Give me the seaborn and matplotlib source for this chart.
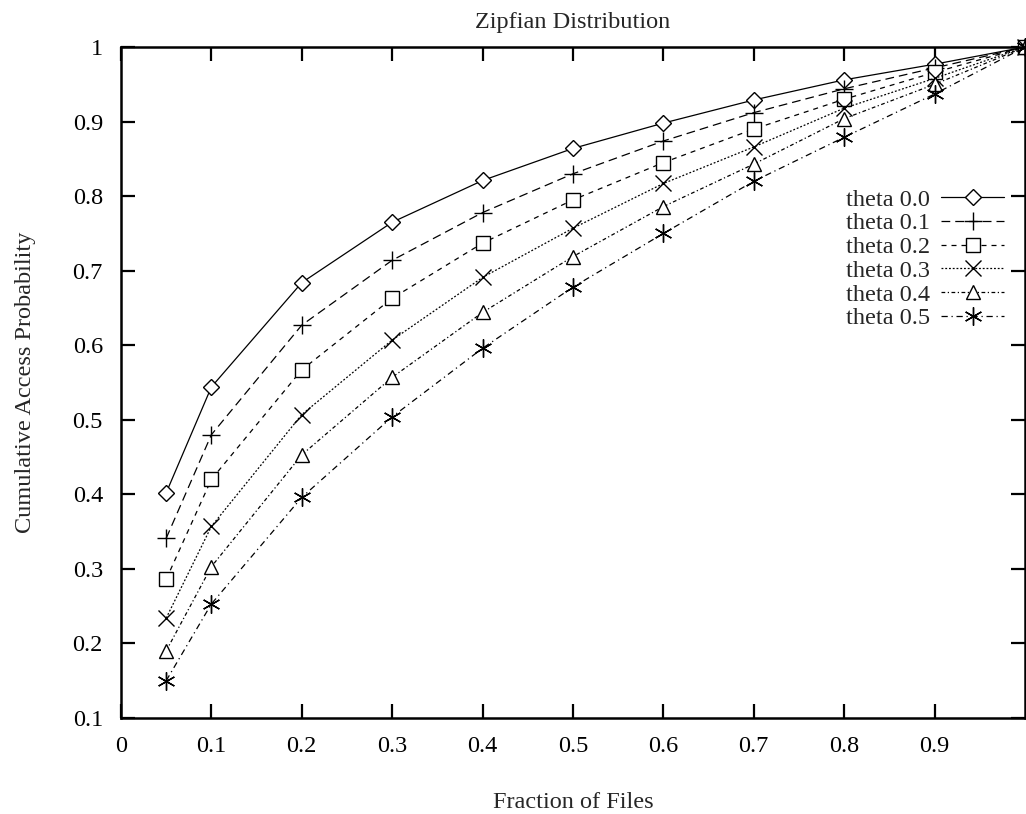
import matplotlib
matplotlib.use("Agg")
import matplotlib.pyplot as plt
import seaborn as sns
import pandas as pd

# ---- data ----
fractions = [0.05, 0.1, 0.2, 0.3, 0.4, 0.5, 0.6, 0.7, 0.8, 0.9, 1.0]
theta_labels = ["theta 0.0", "theta 0.1", "theta 0.2", "theta 0.3", "theta 0.4", "theta 0.5"]
theta0 = [0.402, 0.544, 0.684, 0.765, 0.821, 0.864, 0.898, 0.929, 0.956, 0.977, 1.0]
theta1 = [0.341, 0.480, 0.627, 0.714, 0.778, 0.830, 0.874, 0.912, 0.944, 0.972, 1.0]
theta2 = [0.286, 0.420, 0.567, 0.663, 0.737, 0.795, 0.845, 0.890, 0.930, 0.966, 1.0]
theta3 = [0.234, 0.357, 0.507, 0.607, 0.691, 0.757, 0.817, 0.866, 0.918, 0.958, 1.0]
theta4 = [0.190, 0.303, 0.453, 0.557, 0.644, 0.719, 0.786, 0.843, 0.904, 0.950, 1.0]
theta5 = [0.150, 0.253, 0.396, 0.504, 0.596, 0.678, 0.750, 0.820, 0.879, 0.937, 1.0]
series = [theta0, theta1, theta2, theta3, theta4, theta5]

x_ticks = [0, 0.1, 0.2, 0.3, 0.4, 0.5, 0.6, 0.7, 0.8, 0.9]
x_tick_labels = ["0", "0.1", "0.2", "0.3", "0.4", "0.5", "0.6", "0.7", "0.8", "0.9"]
y_ticks = [0.1, 0.2, 0.3, 0.4, 0.5, 0.6, 0.7, 0.8, 0.9, 1.0]
y_tick_labels = ["0.1", "0.2", "0.3", "0.4", "0.5", "0.6", "0.7", "0.8", "0.9", "1"]

# ---- style ----
sns.set_style("ticks")
plt.rcParams["font.family"] = ["Liberation Serif", "DejaVu Serif"]
FS = 17.5

styles = [
    dict(linestyle="-", marker="D", markersize=8, mfc="white"),
    dict(linestyle=(0, (7, 4)), marker="+", markersize=13, mfc="none"),
    dict(linestyle=(0, (4, 4)), marker="s", markersize=9.5, mfc="white"),
    dict(linestyle=(0, (1.5, 1.5)), marker="x", markersize=11, mfc="none"),
    dict(linestyle=(0, (3, 2, 1, 2)), marker="^", markersize=9.5, mfc="white"),
    dict(linestyle=(0, (5, 3, 1, 3)), marker=(6, 2, 0), markersize=13, mfc="none"),
]

fig = plt.figure(figsize=(10.26, 8.14), dpi=100)
ax = fig.add_axes([0.1179, 0.1179, 0.8811, 0.8243])

for label, vals, st in zip(theta_labels, series, styles):
    df = pd.DataFrame({"fraction": fractions, "prob": vals})
    sns.lineplot(data=df, x="fraction", y="prob", ax=ax, color="black",
                 linewidth=0.9, mec="black", mew=1.0, label=label,
                 linestyle=st["linestyle"], marker=st["marker"],
                 markersize=st["markersize"], mfc=st["mfc"], clip_on=False)

ax.set_xlim(0, 1)
ax.set_ylim(0.1, 1.0)
ax.set_xticks(x_ticks)
ax.set_xticklabels(x_tick_labels, fontsize=FS)
ax.set_yticks(y_ticks)
ax.set_yticklabels(y_tick_labels, fontsize=FS)
ax.tick_params(direction="in", length=10, width=1.6, top=True, right=True,
               pad=13, colors="black")
for sp in ax.spines.values():
    sp.set_linewidth(1.8)
    sp.set_color("black")

ax.set_title("Zipfian Distribution", fontsize=FS, pad=14)
ax.set_xlabel("Fraction of Files", fontsize=FS, labelpad=25)
ax.set_ylabel("Cumulative Access Probability", fontsize=FS, labelpad=26)

leg = ax.legend(loc="upper right", bbox_to_anchor=(0.977, 0.789), frameon=False,
                markerfirst=False, fontsize=FS, handlelength=2.6,
                handletextpad=0.45, labelspacing=0.07, borderpad=0,
                borderaxespad=0)

fig.savefig("out.png", dpi=100)
